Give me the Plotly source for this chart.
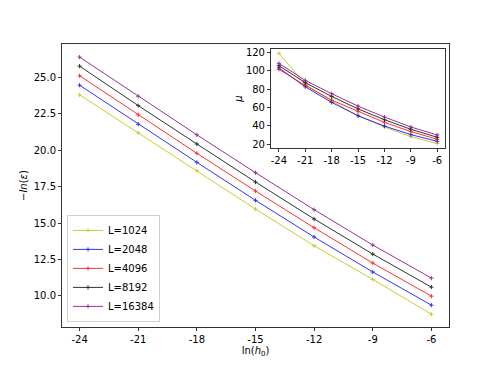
import plotly.graph_objects as go

# ln(h0) values shared by every curve
ln_h0 = [-24, -21, -18, -15, -12, -9, -6]
tick_labels = ["-24", "-21", "-18", "-15", "-12", "-9", "-6"]

labels = ["L=1024", "L=2048", "L=4096", "L=8192", "L=16384"]
colors = ["#bfbf00", "#0000ff", "#ff0000", "#000000", "#800080"]

# main panel: -ln(eps)
eps_1024 = [23.81, 21.20, 18.60, 15.96, 13.44, 11.13, 8.74]
eps_2048 = [24.47, 21.79, 19.17, 16.56, 14.04, 11.64, 9.36]
eps_4096 = [25.12, 22.43, 19.79, 17.20, 14.68, 12.25, 9.98]
eps_8192 = [25.78, 23.07, 20.43, 17.82, 15.28, 12.87, 10.60]
eps_16384 = [26.40, 23.71, 21.06, 18.46, 15.92, 13.49, 11.22]

# inset: mu
mu_1024 = [119.0, 85.0, 67.0, 51.0, 38.8, 28.3, 20.8]
mu_2048 = [103.0, 82.5, 65.5, 51.0, 39.8, 30.5, 23.2]
mu_4096 = [101.5, 84.0, 68.0, 55.5, 43.8, 33.8, 25.4]
mu_8192 = [105.5, 87.0, 72.0, 58.5, 46.7, 36.3, 27.6]
mu_16384 = [108.0, 89.5, 75.0, 61.5, 49.6, 38.8, 30.1]

eps_series = [eps_1024, eps_2048, eps_4096, eps_8192, eps_16384]
mu_series = [mu_1024, mu_2048, mu_4096, mu_8192, mu_16384]

FONT = "DejaVu Sans"
fig = go.Figure()

for nombre, color, valores in zip(labels, colors, eps_series):
    fig.add_scatter(
        x=ln_h0, y=valores, name=nombre, mode="lines+markers",
        line={"color": color, "width": 1},
        marker={"symbol": "cross-thin", "size": 3, "line": {"color": color, "width": 1}},
        opacity=0.8,
    )

for nombre, color, valores in zip(labels, colors, mu_series):
    fig.add_scatter(
        x=ln_h0, y=valores, name=nombre, mode="lines+markers", showlegend=False,
        xaxis="x2", yaxis="y2",
        line={"color": color, "width": 1},
        marker={"symbol": "cross-thin", "size": 3, "line": {"color": color, "width": 1}},
        opacity=0.8,
    )

eje = {
    "showline": True, "mirror": True, "linecolor": "#333", "linewidth": 1,
    "ticks": "outside", "ticklen": 3, "tickcolor": "#333",
    "showgrid": False, "zeroline": False, "automargin": False,
    "tickfont": {"size": 10, "color": "#000"},
}

# the page body adds an 8px margin, so the figure is 8px smaller each way
fig.update_layout(
    width=490, height=366,
    paper_bgcolor="white", plot_bgcolor="white",
    font={"family": FONT, "size": 10, "color": "#000"},
    margin={"l": 54, "r": 49, "t": 36, "b": 47},
    xaxis={
        **eje, "range": [-24.9, -5.1], "tickvals": ln_h0, "ticktext": tick_labels,
        "title": {"text": "ln(<i>h</i><sub>0</sub>)", "standoff": 0, "font": {"size": 10}},
    },
    yaxis={
        **eje, "range": [7.86, 27.3], "tickvals": [10, 12.5, 15, 17.5, 20, 22.5, 25],
        "tickformat": ".1f",
        "title": {"text": "−<i>ln</i>(<i>ε</i>)", "standoff": 4, "font": {"size": 10}},
    },
    xaxis2={
        **eje, "domain": [0.54, 0.99], "anchor": "y2", "range": [-24.9, -5.1],
        "tickvals": ln_h0, "ticktext": tick_labels,
    },
    yaxis2={
        **eje, "domain": [0.632, 0.982], "anchor": "x2", "range": [15.8, 123.5],
        "tickvals": [20, 40, 60, 80, 100, 120],
        "title": {"text": "<i>μ</i>", "standoff": 1, "font": {"size": 10}},
    },
    legend={
        "x": 0.013, "y": 0.018, "xanchor": "left", "yanchor": "bottom",
        "bgcolor": "rgba(255,255,255,0.8)", "bordercolor": "#d0d0d0", "borderwidth": 1,
        "font": {"size": 10}, "tracegroupgap": 0, "itemwidth": 30,
    },
    showlegend=True,
)

fig.write_html("out.html")
